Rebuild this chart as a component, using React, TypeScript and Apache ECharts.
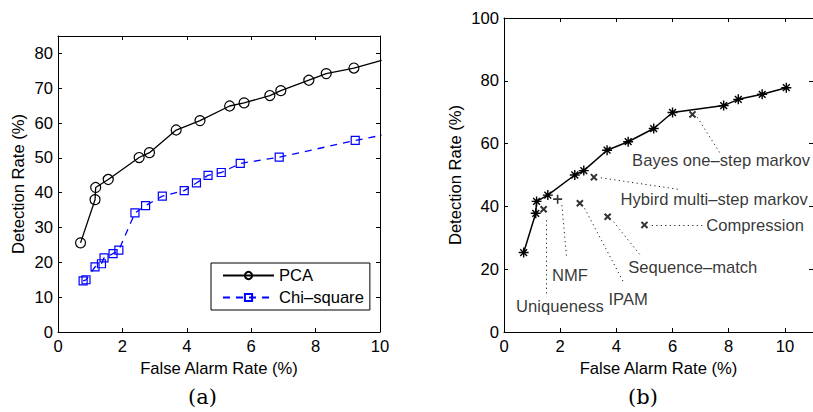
import React, { useEffect, useRef } from "react";
import * as echarts from "echarts";

// ---- Panel (a) data ----
const pcaX = [0.70, 1.15, 1.17, 1.56, 2.52, 2.84, 3.67, 4.41, 5.33, 5.78, 6.58, 6.92, 7.79, 8.33, 9.19, 10.05];
const pcaY = [25.6, 38.0, 41.5, 43.8, 50.1, 51.5, 58.0, 60.7, 64.9, 65.8, 67.9, 69.3, 72.3, 74.2, 75.8, 78.0];
const chiX = [0.78, 0.87, 1.15, 1.35, 1.43, 1.71, 1.89, 2.39, 2.72, 3.24, 3.92, 4.30, 4.66, 5.07, 5.66, 6.87, 9.23, 10.05];
const chiY = [14.7, 15.0, 18.7, 19.6, 21.3, 22.5, 23.5, 34.2, 36.3, 39.0, 40.6, 42.8, 45.0, 45.8, 48.4, 50.2, 55.0, 56.5];
const legendNames = ["PCA", "Chi–square"];

// ---- Panel (b) data ----
const curveX = [0.70, 1.13, 1.16, 1.56, 2.52, 2.84, 3.67, 4.42, 5.33, 6.00, 7.82, 8.34, 9.19, 10.05];
const curveY = [25.3, 37.8, 41.6, 43.6, 50.0, 51.4, 57.9, 60.6, 64.8, 69.9, 72.1, 74.1, 75.7, 77.8];

const methodNames = ["Uniqueness", "NMF", "IPAM", "Sequence–match", "Compression", "Hybird multi–step markov", "Bayes one–step markov"];
const methodMarker = ["x", "+", "x", "x", "x", "x", "x"];
const methodX = [1.41, 1.91, 2.70, 3.69, 5.00, 3.20, 6.71];
const methodY = [39.1, 42.3, 41.0, 36.7, 34.1, 49.3, 69.3];
// leader lines (start -> end) and label anchors (left edge, vertical middle)
const leadStartX = [1.50, 2.06, 2.87, 3.90, 5.26, 3.45, 6.88];
const leadStartY = [35.6, 40.4, 39.4, 35.1, 34.0, 49.1, 68.4];
const leadEndX = [1.50, 2.23, 4.24, 4.85, 7.06, 6.24, 7.73];
const leadEndY = [11.2, 23.6, 16.1, 24.5, 34.0, 45.4, 56.4];
const labelX = [0.43, 1.71, 3.72, 4.42, 7.20, 4.15, 4.56];
const labelY = [8.0, 17.9, 10.5, 20.5, 34.0, 42.3, 54.5];

// ---- Tick settings ----
const aXTicks = { min: 0, max: 10, interval: 2 };
const aYTicks = { min: 0, max: 85, interval: 10 };
const bXTicks = { min: 0, max: 11, interval: 2 };
const bYTicks = { min: 0, max: 100, interval: 20 };

const SANS = "Liberation Sans, Arial, Helvetica, sans-serif";
const SERIF = "DejaVu Serif, serif";
const FS = 16.6;

const ASTERISK =
  "path://M8.6,0 L11.4,0 L11.4,20 L8.6,20 Z M0,8.6 L20,8.6 L20,11.4 L0,11.4 Z M2.2,4.2 L4.2,2.2 L17.8,15.8 L15.8,17.8 Z M15.8,2.2 L17.8,4.2 L4.2,17.8 L2.2,15.8 Z";
const XMARK = "path://M0,1.9 L1.9,0 L10,8.1 L8.1,10 Z M8.1,0 L10,1.9 L1.9,10 L0,8.1 Z";
const PLUS = "path://M4.1,0 L5.9,0 L5.9,10 L4.1,10 Z M0,4.1 L10,4.1 L10,5.9 L0,5.9 Z";

function zip(xs: number[], ys: number[]) {
  return xs.map((x, i) => [x, ys[i]]);
}

function mainX(gridIndex: number, t: any, name: string) {
  return {
    type: "value",
    gridIndex,
    position: "bottom",
    min: t.min,
    max: t.max,
    interval: t.interval,
    name,
    nameLocation: "middle",
    nameGap: 26,
    nameTextStyle: { fontFamily: SANS, fontSize: FS, color: "#000" },
    axisLine: { show: true, onZero: false, lineStyle: { color: "#000", width: 1 } },
    axisTick: { show: true, inside: true, length: 4, lineStyle: { color: "#000" } },
    axisLabel: { show: true, fontFamily: SANS, fontSize: FS, color: "#000", margin: 6, showMaxLabel: t.max % t.interval === 0 },
    splitLine: { show: false },
  };
}
function mirrorX(gridIndex: number, t: any) {
  return {
    type: "value",
    gridIndex,
    position: "top",
    min: t.min,
    max: t.max,
    interval: t.interval,
    axisLine: { show: true, onZero: false, lineStyle: { color: "#000", width: 1 } },
    axisTick: { show: true, inside: true, length: 4, lineStyle: { color: "#000" } },
    axisLabel: { show: false },
    splitLine: { show: false },
  };
}
function mainY(gridIndex: number, t: any, name: string, gap: number) {
  return {
    type: "value",
    gridIndex,
    position: "left",
    min: t.min,
    max: t.max,
    interval: t.interval,
    name,
    nameLocation: "middle",
    nameGap: gap,
    nameTextStyle: { fontFamily: SANS, fontSize: FS, color: "#000" },
    axisLine: { show: true, onZero: false, lineStyle: { color: "#000", width: 1 } },
    axisTick: { show: true, inside: true, length: 4, lineStyle: { color: "#000" } },
    axisLabel: { show: true, fontFamily: SANS, fontSize: FS, color: "#000", margin: 5, showMaxLabel: t.max % t.interval === 0 },
    splitLine: { show: false },
  };
}
function mirrorY(gridIndex: number, t: any) {
  return {
    type: "value",
    gridIndex,
    position: "right",
    min: t.min,
    max: t.max,
    interval: t.interval,
    axisLine: { show: true, onZero: false, lineStyle: { color: "#000", width: 1 } },
    axisTick: { show: true, inside: true, length: 4, lineStyle: { color: "#000" } },
    axisLabel: { show: false },
    splitLine: { show: false },
  };
}

export default function App() {
  const ref = useRef<HTMLDivElement>(null);
  useEffect(() => {
    document.body.style.margin = "0";
    const chart = echarts.init(ref.current!, null, { renderer: "svg" });
    const option: any = {
      animation: false,
      backgroundColor: "#fff",
      grid: [
        { left: 58, top: 36, width: 322, height: 296, containLabel: false },
        { left: 504, top: 18, width: 315.5, height: 314, containLabel: false },
      ],
      xAxis: [
        mainX(0, aXTicks, "False Alarm Rate (%)"),
        mirrorX(0, aXTicks),
        mainX(1, bXTicks, "False Alarm Rate (%)"),
        mirrorX(1, bXTicks),
      ],
      yAxis: [
        mainY(0, aYTicks, "Detection Rate (%)", 31),
        mirrorY(0, aYTicks),
        mainY(1, bYTicks, "Detection Rate (%)", 40),
        mirrorY(1, bYTicks),
      ],
      legend: {
        data: legendNames,
        orient: "vertical",
        left: 211,
        top: 263,
        padding: [4, 6, 4, 11],
        itemGap: 5,
        itemWidth: 51,
        itemHeight: 9,
        borderColor: "#000",
        borderWidth: 1,
        backgroundColor: "#fff",
        textStyle: { fontFamily: SANS, fontSize: FS, color: "#000" },
        selectedMode: false,
      },
      graphic: [
        { type: "text", left: 203 - 15, top: 386, style: { text: "(a)", font: "21px " + SERIF, fill: "#000" } },
        { type: "text", left: 643 - 15, top: 386, style: { text: "(b)", font: "21px " + SERIF, fill: "#000" } },
      ],
      series: [
        {
          name: legendNames[0],
          type: "line",
          xAxisIndex: 0,
          yAxisIndex: 0,
          data: zip(pcaX, pcaY),
          clip: true,
          symbol: "circle",
          symbolSize: 10,
          showAllSymbol: true,
          itemStyle: { color: "rgba(0,0,0,0)", borderColor: "#000", borderWidth: 1.2 },
          lineStyle: { color: "#000", width: 1.3 },
          z: 3,
        },
        {
          name: legendNames[1],
          type: "line",
          xAxisIndex: 0,
          yAxisIndex: 0,
          data: zip(chiX, chiY),
          clip: true,
          symbol: "rect",
          symbolSize: 8,
          showAllSymbol: true,
          itemStyle: { color: "rgba(0,0,0,0)", borderColor: "#0000ff", borderWidth: 1.2 },
          lineStyle: { color: "#0000ff", width: 1.3, type: [7, 6] },
          z: 3,
        },
        {
          name: "curve-b",
          type: "line",
          xAxisIndex: 2,
          yAxisIndex: 2,
          data: zip(curveX, curveY),
          clip: true,
          symbol: ASTERISK,
          symbolSize: 10,
          showAllSymbol: true,
          itemStyle: { color: "#000" },
          lineStyle: { color: "#000", width: 1.5 },
          z: 3,
        },
        {
          name: "methods",
          type: "scatter",
          xAxisIndex: 2,
          yAxisIndex: 2,
          data: methodX.map((x, i) => ({
            value: [x, methodY[i]],
            symbol: methodMarker[i] === "+" ? PLUS : XMARK,
            symbolSize: methodMarker[i] === "+" ? 9 : 7.5,
          })),
          itemStyle: { color: "#000" },
          z: 4,
        },
        {
          name: "method-labels",
          type: "scatter",
          xAxisIndex: 2,
          yAxisIndex: 2,
          data: labelX.map((x, i) => ({ value: [x, labelY[i]], name: methodNames[i] })),
          symbol: "circle",
          symbolSize: 0.01,
          itemStyle: { color: "rgba(0,0,0,0)" },
          label: {
            show: true,
            position: "right",
            distance: 0,
            formatter: (p: any) => p.name,
            fontFamily: SANS,
            fontSize: FS,
            color: "#000",
          },
          markLine: {
            silent: true,
            symbol: ["none", "none"],
            label: { show: false },
            lineStyle: { color: "#222", width: 1, type: [1.2, 3.3] },
            data: leadStartX.map((x, i) => [
              { coord: [x, leadStartY[i]] },
              { coord: [leadEndX[i], leadEndY[i]] },
            ]),
          },
          z: 2,
        },
      ],
    };
    chart.setOption(option);
    return () => chart.dispose();
  }, []);
  return <div ref={ref} style={{ position: "absolute", left: 0, top: 0, width: 813, height: 412 }} />;
}
